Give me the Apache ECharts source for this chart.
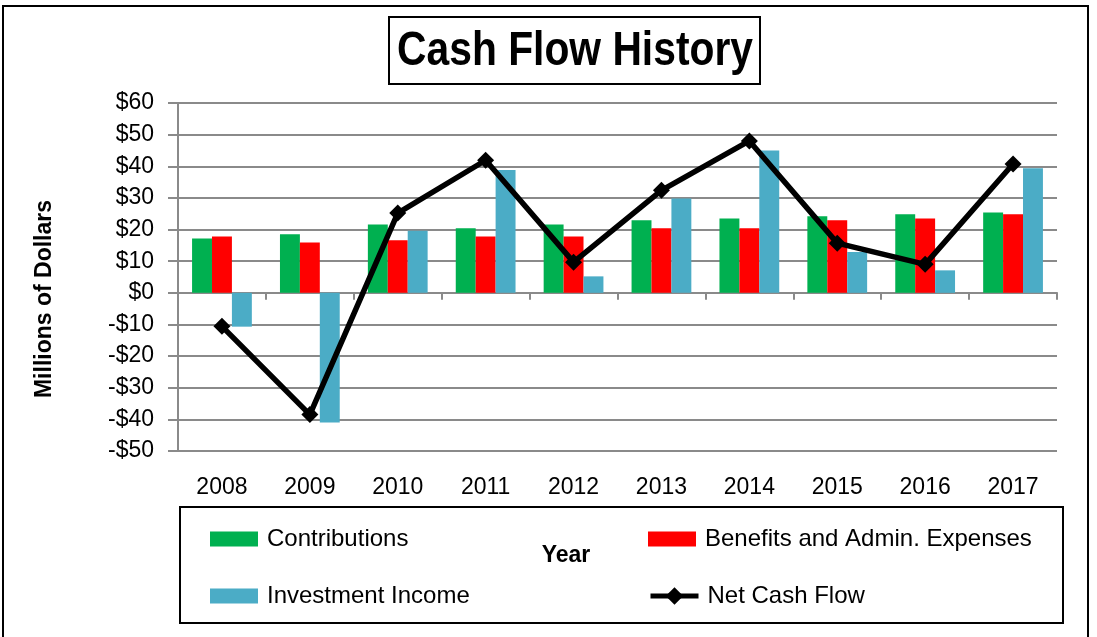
<!DOCTYPE html>
<html>
<head>
<meta charset="utf-8">
<script src="https://cdn.jsdelivr.net/npm/echarts@6/dist/echarts.min.js"></script>
<style>
  html, body { margin: 0; padding: 0; background: #fff; }
  #chart { width: 1097px; height: 637px; }
</style>
</head>
<body>
<div id="chart"></div>
<script>
// 数据
var years = ['2008', '2009', '2010', '2011', '2012', '2013', '2014', '2015', '2016', '2017'];
var contributions = [17.2, 18.5, 21.6, 20.4, 21.6, 22.9, 23.5, 24.2, 24.8, 25.4];
var benefits = [17.8, 15.9, 16.6, 17.8, 17.8, 20.4, 20.4, 22.9, 23.5, 24.8];
var investment = [-10.7, -41.0, 19.6, 38.8, 5.2, 29.8, 45.0, 12.9, 7.1, 39.4];
var netCashFlow = [-10.6, -38.5, 25.2, 41.9, 9.7, 32.4, 48.0, 15.7, 9.0, 40.7];

var font = 'Liberation Sans';
var gridColor = '#8a8a8a';

var myChart = echarts.init(document.getElementById('chart'));

//单个图例
function legendItem(name, left, top, icon, h) {
    var item = {
        data: [name],
        left: left,
        top: top,
        padding: 0,
        itemWidth: 48,
        itemHeight: h || 15,
        selectedMode: false,
        lineStyle: { width: 5 },
        textStyle: { fontFamily: font, fontSize: 24, color: '#000', padding: [0, 0, 0, 4] }
    };
    if (icon) {
        item.icon = icon;
    }
    return item;
}

var option = {
    animation: false,
    grid: { left: 178, right: 40, top: 103, bottom: 186 },
    legend: [
        legendItem('Contributions', 210, 527, 'rect'),
        legendItem('Benefits and Admin. Expenses', 648, 527, 'rect'),
        legendItem('Investment Income', 210, 584, 'rect'),
        legendItem('Net Cash Flow', 648, 584, null, 22)
    ],
    xAxis: [
        {
            type: 'category',
            data: years,
            axisLine: { show: false, onZero: false },
            axisTick: { show: false },
            axisLabel: { fontFamily: font, fontSize: 23, color: '#000', margin: 25 },
            splitLine: { show: false }
        },
        {
            type: 'category',
            data: years,
            position: 'bottom',
            axisLine: { show: true, onZero: true, lineStyle: { color: gridColor, width: 2 } },
            axisTick: { show: true, inside: false, length: 7, lineStyle: { color: gridColor, width: 2 } },
            axisLabel: { show: false },
            splitLine: { show: false }
        }
    ],
    yAxis: {
        type: 'value',
        min: -50,
        max: 60,
        interval: 10,
        axisLine: { show: true, lineStyle: { color: gridColor, width: 2 } },
        axisTick: { show: true, length: 10, lineStyle: { color: gridColor, width: 2 } },
        axisLabel: {
            fontFamily: font, fontSize: 23, color: '#000', margin: 24,
            formatter: function (v) { return v < 0 ? '-$' + Math.abs(v) : '$' + v; }
        },
        splitLine: { show: true, lineStyle: { color: gridColor, width: 2 } }
    },
    series: [
        {
            name: 'Contributions', type: 'bar', data: contributions,
            barGap: '0%', barCategoryGap: '32%',
            itemStyle: { color: '#00b050' }
        },
        {
            name: 'Benefits and Admin. Expenses', type: 'bar', data: benefits,
            itemStyle: { color: '#ff0000' }
        },
        {
            name: 'Investment Income', type: 'bar', data: investment,
            itemStyle: { color: '#4bacc6' }
        },
        {
            name: 'Net Cash Flow', type: 'line', data: netCashFlow,
            symbol: 'diamond', symbolSize: 17,
            lineStyle: { color: '#000', width: 5.5 },
            itemStyle: { color: '#000' },
            z: 5
        }
    ],
    graphic: [
        // 外框
        { type: 'rect', shape: { x: 3, y: 6, width: 1085, height: 660 }, style: { fill: null, stroke: '#000', lineWidth: 2 }, silent: true },
        // 标题框
        { type: 'rect', shape: { x: 389, y: 17, width: 371, height: 67 }, style: { fill: '#fff', stroke: '#000', lineWidth: 2 }, silent: true },
        {
            type: 'text', x: 575, y: 52, scaleX: 0.85, z: 10,
            style: {
                text: 'Cash Flow History', fill: '#000',
                font: 'bold 48px "Liberation Sans"',
                textAlign: 'center', textVerticalAlign: 'middle'
            }
        },
        // 图例框
        { type: 'rect', shape: { x: 180, y: 507, width: 883, height: 116 }, style: { fill: null, stroke: '#000', lineWidth: 2 }, silent: true, z: -1 },
        // 坐标轴名称
        {
            type: 'text', x: 566, y: 556,
            style: {
                text: 'Year', fill: '#000', font: 'bold 23px "Liberation Sans"',
                textAlign: 'center', textVerticalAlign: 'middle'
            }
        },
        {
            type: 'text', x: 45, y: 299, rotation: Math.PI / 2,
            style: {
                text: 'Millions of Dollars', fill: '#000', font: 'bold 23px "Liberation Sans"',
                textAlign: 'center', textVerticalAlign: 'middle'
            }
        }
    ]
};

myChart.setOption(option);
</script>
</body>
</html>
